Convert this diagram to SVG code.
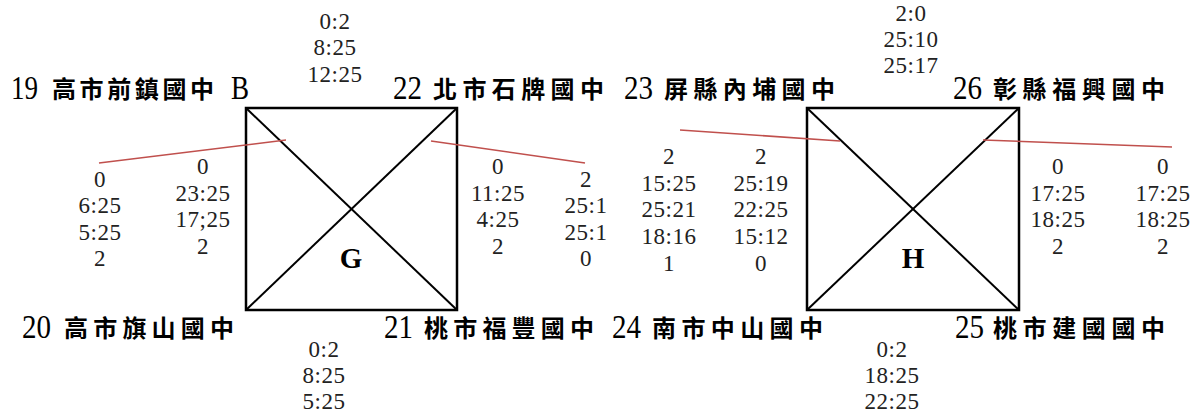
<svg xmlns="http://www.w3.org/2000/svg" width="1203" height="417" viewBox="0 0 1203 417">
<style>
.num{font-family:"Liberation Serif","Times New Roman",serif;font-size:33px;fill:#000}
.cjk{font-family:"Noto Sans CJK TC","Noto Sans CJK SC",sans-serif;font-size:24px;font-weight:bold;fill:#000}
.sc{font-family:"Liberation Serif","Times New Roman",serif;font-size:23px;fill:#222;text-anchor:middle;letter-spacing:0.5px}
.big{font-family:"Liberation Serif","Times New Roman",serif;font-size:29px;font-weight:bold;text-anchor:middle;fill:#000}
.box{fill:none;stroke:#000;stroke-width:2.5}
.diag{stroke:#000;stroke-width:2}
.red{stroke:#c0504d;stroke-width:1.6;fill:none}
</style>
<rect width="1203" height="417" fill="#fff"/>

<g id="bracket-G">
<rect class="box" x="246" y="108" width="211" height="202"/>
<line class="diag" x1="246" y1="108" x2="457" y2="310"/>
<line class="diag" x1="457" y1="108" x2="246" y2="310"/>
<text class="big" x="351" y="268">G</text>
</g>
<g id="bracket-H">
<rect class="box" x="807" y="108" width="212" height="202"/>
<line class="diag" x1="807" y1="108" x2="1019" y2="310"/>
<line class="diag" x1="1019" y1="108" x2="807" y2="310"/>
<text class="big" x="913" y="268">H</text>
</g>

<g id="connectors">
<line class="red" x1="99" y1="163" x2="286" y2="140"/>
<line class="red" x1="431" y1="141" x2="585" y2="163"/>
<line class="red" x1="680" y1="130" x2="840" y2="141"/>
<line class="red" x1="983" y1="140" x2="1172" y2="147"/>
</g>

<g id="team-19">
<text class="num" transform="translate(11,99) scale(0.82,1)">19</text>
<text class="cjk" x="52" y="98" textLength="162" lengthAdjust="spacing">高市前鎮國中</text>
<text class="num" transform="translate(231,99) scale(0.82,1)">B</text>
</g>
<g id="team-22">
<text class="num" transform="translate(393,99) scale(0.88,1)">22</text>
<text class="cjk" x="433" y="98" textLength="171" lengthAdjust="spacing">北市石牌國中</text>
</g>
<g id="team-23">
<text class="num" transform="translate(624,99) scale(0.88,1)">23</text>
<text class="cjk" x="664" y="98" textLength="171" lengthAdjust="spacing">屏縣內埔國中</text>
</g>
<g id="team-26">
<text class="num" transform="translate(953,99) scale(0.88,1)">26</text>
<text class="cjk" x="993" y="98" textLength="172" lengthAdjust="spacing">彰縣福興國中</text>
</g>
<g id="team-20">
<text class="num" transform="translate(22,338) scale(0.88,1)">20</text>
<text class="cjk" x="64" y="337" textLength="170" lengthAdjust="spacing">高市旗山國中</text>
</g>
<g id="team-21">
<text class="num" transform="translate(384,338) scale(0.88,1)">21</text>
<text class="cjk" x="424" y="337" textLength="170" lengthAdjust="spacing">桃市福豐國中</text>
</g>
<g id="team-24">
<text class="num" transform="translate(612,338) scale(0.88,1)">24</text>
<text class="cjk" x="652" y="337" textLength="171" lengthAdjust="spacing">南市中山國中</text>
</g>
<g id="team-25">
<text class="num" transform="translate(955,338) scale(0.88,1)">25</text>
<text class="cjk" x="993" y="337" textLength="172" lengthAdjust="spacing">桃市建國國中</text>
</g>

<g id="scores">
<text class="sc" x="335" y="28.5">0:2</text>
<text class="sc" x="335" y="55">8:25</text>
<text class="sc" x="335" y="81.5">12:25</text>

<text class="sc" x="100" y="187">0</text>
<text class="sc" x="100" y="213">6:25</text>
<text class="sc" x="100" y="239.5">5:25</text>
<text class="sc" x="100" y="266">2</text>

<text class="sc" x="203" y="174">0</text>
<text class="sc" x="203" y="201">23:25</text>
<text class="sc" x="203" y="227">17;25</text>
<text class="sc" x="203" y="254">2</text>

<text class="sc" x="498" y="174">0</text>
<text class="sc" x="498" y="201">11:25</text>
<text class="sc" x="498" y="227">4:25</text>
<text class="sc" x="498" y="254">2</text>

<text class="sc" x="586" y="187">2</text>
<text class="sc" x="586" y="213">25:1</text>
<text class="sc" x="586" y="239.5">25:1</text>
<text class="sc" x="586" y="266">0</text>

<text class="sc" x="669" y="164">2</text>
<text class="sc" x="669" y="191">15:25</text>
<text class="sc" x="669" y="217">25:21</text>
<text class="sc" x="669" y="244">18:16</text>
<text class="sc" x="669" y="271">1</text>

<text class="sc" x="761" y="164">2</text>
<text class="sc" x="761" y="191">25:19</text>
<text class="sc" x="761" y="217">22:25</text>
<text class="sc" x="761" y="244">15:12</text>
<text class="sc" x="761" y="271">0</text>

<text class="sc" x="1058" y="174">0</text>
<text class="sc" x="1058" y="201">17:25</text>
<text class="sc" x="1058" y="227">18:25</text>
<text class="sc" x="1058" y="254">2</text>

<text class="sc" x="1163" y="174">0</text>
<text class="sc" x="1163" y="201">17:25</text>
<text class="sc" x="1163" y="227">18:25</text>
<text class="sc" x="1163" y="254">2</text>

<text class="sc" x="911" y="21">2:0</text>
<text class="sc" x="911" y="47">25:10</text>
<text class="sc" x="911" y="73">25:17</text>

<text class="sc" x="324" y="357">0:2</text>
<text class="sc" x="324" y="383">8:25</text>
<text class="sc" x="324" y="409">5:25</text>

<text class="sc" x="892" y="357">0:2</text>
<text class="sc" x="892" y="383">18:25</text>
<text class="sc" x="892" y="409">22:25</text>
</g>
</svg>
